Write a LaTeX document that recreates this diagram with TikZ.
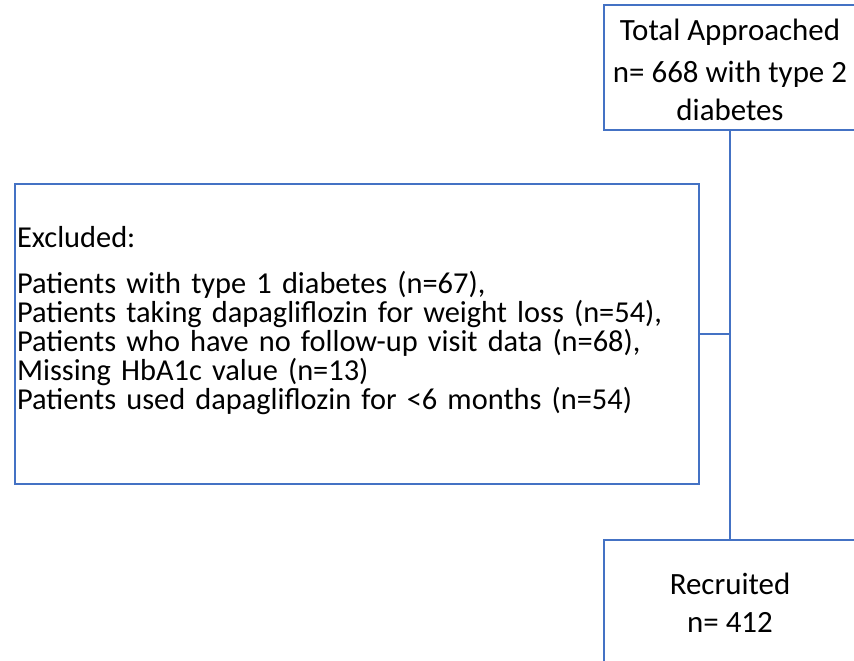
\documentclass[tikz,border=0pt]{standalone}
\usepackage{fontspec}
\setmainfont{Carlito}
\usetikzlibrary{positioning}
\definecolor{boxblue}{HTML}{4472C4}

\begin{document}
\begin{tikzpicture}[x=0.02cm,y=-0.02cm,
    flowbox/.style={draw=boxblue, line width=0.9pt, inner sep=0pt, align=center,
        font=\fontsize{17.6pt}{21.8pt}\selectfont},
    listbox/.style={draw=boxblue, line width=0.9pt, inner xsep=1.2pt, inner ysep=0pt, align=left,
        font=\fontsize{17.3pt}{16.6pt}\selectfont},
    link/.style={draw=boxblue, line width=0.9pt}]
            \clip (0,0) rectangle (854,661);
            \node[flowbox, minimum width=5.04cm, minimum height=2.5cm] (approached) at (730,67.5)
                {\rule{0pt}{15pt}Total Approached\\[2.3pt] n= 668 with type 2\\ diabetes};
            \node[listbox, text width=13.6cm, minimum height=6cm] (excluded) at (357,334)
                {Excluded:\\[9.5pt]
                Patients with type 1 diabetes (n=67),\\
                Patients taking dapagliflozin for weight loss (n=54),\\
                Patients who have no follow-up visit data (n=68),\\
                Missing HbA1c value (n=13)\\
                Patients used dapagliflozin for <6 months (n=54)\rule[-18pt]{0pt}{18pt}};
            \node[flowbox, minimum width=5.04cm, minimum height=2.52cm] (recruited) at (730,603)
                {Recruited\\ n= 412};
            \coordinate (junction) at (730,334);
            \draw[link] (approached.south)--(junction)--(recruited.north);
            \draw[link] (excluded.east)--(junction);
        \end{tikzpicture}
\end{document}
